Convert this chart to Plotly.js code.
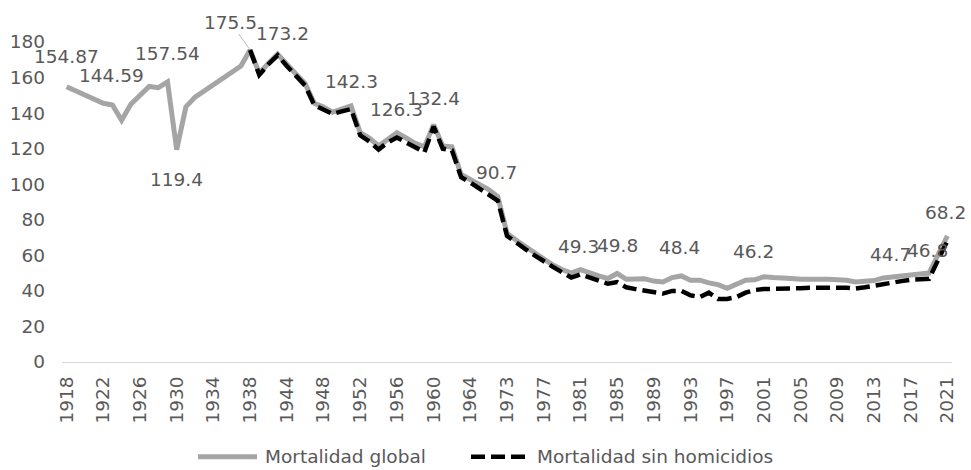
<!DOCTYPE html>
<html>
<head>
<meta charset="utf-8">
<script src="https://cdn.plot.ly/plotly-3.0.1.min.js"></script>
<style>html,body{margin:0;padding:0;background:#fff;}#chart{width:971px;height:470px;}</style>
</head>
<body>
<div id="chart"></div>
<script>
// ---------- DATA ----------
const years = [
  "1918","1919","1920","1921","1922","1923","1924","1925","1926","1927","1928","1929","1930","1931","1932","1933","1934","1935","1936","1937","1938",
  "1940","1942","1943",
  "1944","1945","1946","1947","1948","1949","1950","1951","1952","1953","1954","1955","1956","1957","1958","1959","1960","1961","1962","1963","1964",
  "1965","1970","1972",
  "1973","1974","1975","1976","1977","1978","1979","1980","1981","1982","1983","1984","1985","1986","1987","1988","1989","1990","1991","1992","1993","1994","1995","1996","1997","1998","1999","2000",
  "2001","2002","2003","2004","2005","2006","2007","2008","2009","2010","2011","2012","2013","2014","2015","2016","2017","2018","2019","2020","2021"
];

const mortalidadGlobal = [
  154.87,152.5,150.2,147.8,145.5,144.59,136,145,150.5,155,154.3,157.54,119.4,143.5,149,152.5,156,159.5,163,166.5,175.5,
  162.5,168,173.2,
  167.5,162,156.5,145.5,143.5,140.5,142.5,144,129,126,121.5,125.5,129,126,123,121,133.5,121.5,121,105.5,102.5,
  100,97,93,
  72.5,68.5,65,61.5,58,54.5,52,50,52,50,48.5,47,49.8,46.5,46.8,46.8,45.5,45,47.5,48.4,46,46,44.5,43.5,41.5,43.5,46,46.2,
  48,47.5,47.5,47,46.5,46.8,46.5,46.5,46.3,46,45,45.3,45.8,47.3,48,48.5,49,49.5,50,60.5,71
];

const mortalidadSinHomicidios = [
  null,null,null,null,null,null,null,null,null,null,null,null,null,null,null,null,null,null,null,null,175.5,
  161.5,167.5,172.5,
  166.5,161,155.5,144.5,142,139.5,141,142.3,127.5,124,119.5,123.5,126.3,123.5,120.5,118,132.4,120,119,104,101,
  97.5,94.5,90.7,
  71,67,63.5,60,56.5,53.5,50.5,47.5,49.3,47.5,45.5,44,45,42,41,40,39,38.5,40,40,37.5,36.5,39,35.5,35.5,36.5,39,40.5,
  41,41,41.2,41.3,41.5,41.8,42,42,41.8,41.8,41.3,42,43,44,44.7,45.5,46.2,46.5,46.8,57.5,68.2
];

const labelYears = ["1918","1923","1929","1930","1938","1943","1951","1956","1960","1972","1981","1985","1992","2000","2015","2019","2021"];
const labelTexts = ["154.87","144.59","157.54","119.4","175.5","173.2","142.3","126.3","132.4","90.7","49.3","49.8","48.4","46.2","44.7","46.8","68.2"];

const seriesNames = ["Mortalidad global","Mortalidad sin homicidios"];

// ---------- LAYOUT ----------
const W = 971, H = 470;
const M = {l: 62, r: 19, t: 42, b: 108};
const PW = W - M.l - M.r, PH = H - M.t - M.b;
const px2x = p => (p - M.l) / PW;
const py2y = p => (H - M.b - p) / PH;

const FONT = "DejaVu Sans, Open Sans, sans-serif";
const TXT = "#595959";
const GREY = "#A5A5A5";
const FS = 18.5;

const tickIdx = years.map((y, i) => i).filter(i => i % 4 === 0);

const traces = [
  {x: years, y: mortalidadGlobal, type: "scatter", mode: "lines", name: seriesNames[0],
   line: {color: GREY, width: 5}, connectgaps: false, hoverinfo: "x+y"},
  {x: years, y: mortalidadSinHomicidios, type: "scatter", mode: "lines", name: seriesNames[1],
   line: {color: "#000000", width: 4.5, dash: "14px,6px"}, connectgaps: false, hoverinfo: "x+y"}
];

const special = {
  "154.87": {yshift: 30, xshift: 0},
  "144.59": {yshift: 29.5, xshift: -1},
  "157.54": {xshift: 0},
  "119.4": {yshift: -29.5, xshift: 0},
  "173.2": {yshift: 20.5, xshift: 4.5},
  "142.3": {xshift: 0},
  "126.3": {xshift: 0},
  "132.4": {xshift: 0},
  "49.8": {xshift: 0}
};

const annotations = labelTexts.map((t, k) => {
  const base = {
    x: years.indexOf(labelYears[k]), y: parseFloat(t), xref: "x", yref: "y", text: t,
    showarrow: false, font: {family: FONT, size: FS, color: TXT},
    xanchor: "center", yanchor: "middle", yshift: 28, xshift: -1.5
  };
  if (t === "175.5") {
    return Object.assign(base, {showarrow: true, arrowhead: 0, arrowwidth: 0.8,
      arrowcolor: "#A6A6A6", ax: -20, ay: -28, standoff: 2, yshift: 0, xshift: 0});
  }
  return Object.assign(base, special[t] || {});
});

// custom legend
const legY = py2y(456.7);
annotations.push(
  {x: px2x(263), y: legY, xref: "paper", yref: "paper", text: seriesNames[0], showarrow: false,
   xanchor: "left", yanchor: "middle", font: {family: FONT, size: FS, color: TXT}},
  {x: px2x(535), y: legY, xref: "paper", yref: "paper", text: seriesNames[1], showarrow: false,
   xanchor: "left", yanchor: "middle", font: {family: FONT, size: FS, color: TXT}}
);
const shapes = [
  {type: "line", xref: "paper", yref: "paper", x0: px2x(198), x1: px2x(257), y0: legY, y1: legY,
   line: {color: GREY, width: 5}},
  {type: "line", xref: "paper", yref: "paper", x0: px2x(471), x1: px2x(530), y0: legY, y1: legY,
   line: {color: "#000000", width: 4.5, dash: "14px,6px"}}
];

const layout = {
  width: W, height: H,
  margin: M,
  paper_bgcolor: "#ffffff", plot_bgcolor: "#ffffff",
  showlegend: false,
  font: {family: FONT, size: FS, color: TXT},
  xaxis: {
    type: "category", categoryorder: "array", categoryarray: years,
    range: [-0.5, years.length - 0.5],
    tickmode: "array", tickvals: tickIdx.map(i => years[i]), ticktext: tickIdx.map(i => years[i]),
    tickangle: -90, ticks: "", ticklabelstandoff: 6,
    showgrid: false, zeroline: false,
    showline: true, linecolor: "#D9D9D9", linewidth: 1,
    tickfont: {family: FONT, size: FS, color: TXT},
    fixedrange: true
  },
  yaxis: {
    range: [0, 180], dtick: 20, tick0: 0,
    ticks: "", ticklabelstandoff: 16,
    showgrid: false, zeroline: false, showline: false,
    tickfont: {family: FONT, size: FS, color: TXT},
    fixedrange: true
  },
  annotations: annotations,
  shapes: shapes
};

Plotly.newPlot("chart", traces, layout, {displayModeBar: false, staticPlot: true});
</script>
</body>
</html>
